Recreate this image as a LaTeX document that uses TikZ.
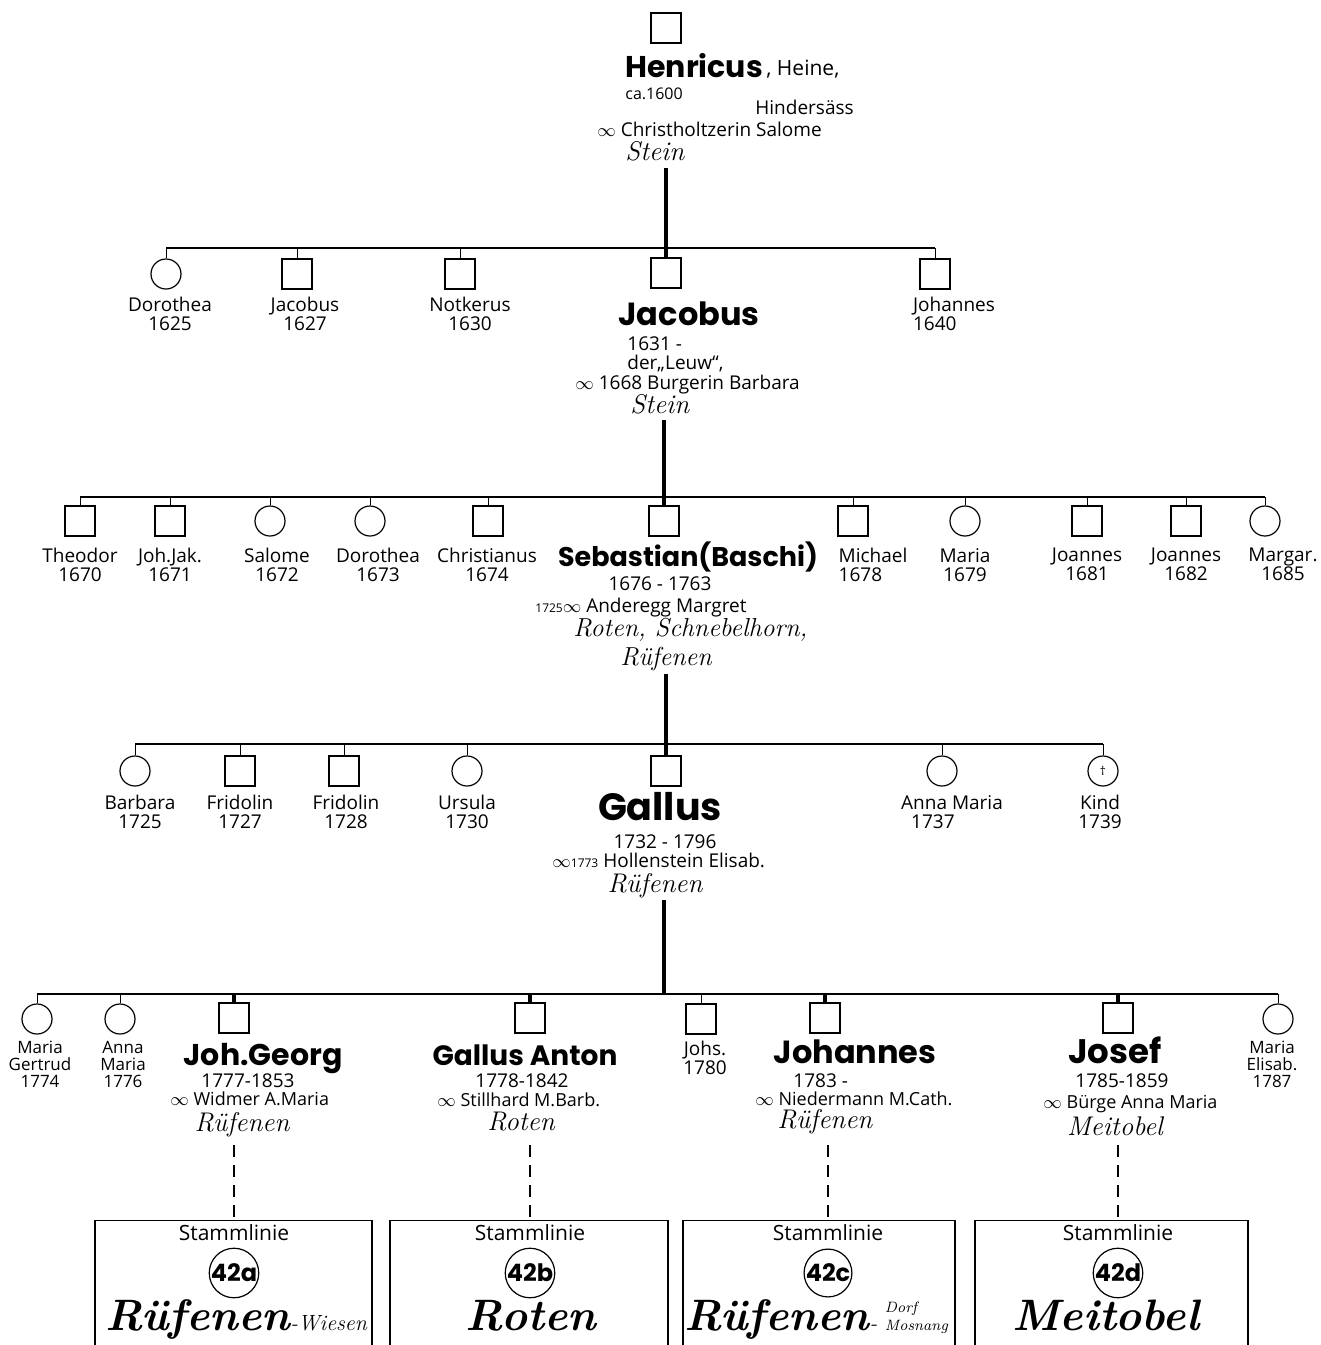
\documentclass[tikz,border=0pt]{standalone}
\usepackage{fontspec}
\newfontfamily\hand{Open Sans}
\newfontfamily\heavy{Poppins}
\usetikzlibrary{positioning}

\begin{document}
\begin{tikzpicture}[x=0.5pt, y=-0.5pt,
    man/.style={draw, line width=0.6pt, minimum size=15pt, inner sep=0pt},
    woman/.style={draw, circle, line width=0.6pt, minimum size=15pt, inner sep=0pt},
    kid/.style={font=\hand\fontsize{9.5}{9.5}\selectfont, align=center, anchor=north, inner sep=0pt},
    kidsmall/.style={font=\hand\fontsize{8.5}{8.5}\selectfont, align=center, anchor=north, inner sep=0pt},
    heir/.style={font=\heavy\bfseries\fontsize{#1}{#1}\selectfont, anchor=base, inner sep=0pt},
    heir/.default=15,
    info/.style={font=\hand\fontsize{9.5}{9.5}\selectfont, anchor=base west, inner sep=0pt},
    place/.style={font=\itshape\fontsize{13.5}{13.5}\selectfont, anchor=base west, inner sep=0pt},
    bar/.style={line width=0.6pt},
    twig/.style={line width=0.5pt},
    stem/.style={line width=2.2pt},
    lineage/.style={line width=0.6pt, dash pattern=on 6pt off 4pt},
    stammbox/.style={draw, line width=0.6pt, anchor=north, minimum height=80pt},
    badge/.style={draw, circle, line width=0.6pt, minimum size=19pt, inner sep=0pt, font=\heavy\bfseries\fontsize{12}{12}\selectfont},
    branch/.style={font=\bfseries\itshape\fontsize{22}{22}\selectfont, anchor=base, inner sep=0pt}
]
\useasboundingbox (0,0) rectangle (1321,1345);

% Henricus at top
\node[man] (henricus) at (666,28) {};
\node[heir=15, anchor=base west] (henricus-n) at (625,77) {Henricus};
\node[info, font=\hand\fontsize{10.5}{10.5}\selectfont] (henricus-a) at (766,75) {, Heine,};
\node[info, font=\hand\fontsize{8}{8}\selectfont] (henricus-b) at (625,99) {ca.1600};
\node[info] (henricus-c) at (755,114) {Hindersäss};
\node[info] (henricus-d) at (597,136) {$\infty$ Christholtzerin Salome};
\node[place] (henricus-p) at (625,160) {Stein};
\coordinate (stem0) at (666,168);

% children of Henricus
\coordinate (bar1) at (0,248);
\foreach \x/\s/\n/\lx/\al/\txt in {166/woman/a/170/center/{Dorothea\\1625},
    297/man/b/305/center/{Jacobus\\1627}, 460/man/c/470/center/{Notkerus\\1630},
    935/man/e/954/left/{Johannes\\1640}} {
    \node[\s] (r1\n) at (\x,274) {};
    \node[kid, align=\al] (r1\n-t) at (\lx,297) {\txt};
    \draw[twig] (r1\n.north) -- (r1\n.north |- bar1);
}
\node[man] (jacobus) at (666,273) {};
\draw[bar] (r1a.north |- bar1) -- (r1e.north |- bar1);
\draw[stem] (stem0) -- (jacobus.north);

\node[heir=16] (jacobus-n) at (689,325) {Jacobus};
\node[info] (jacobus-a) at (627,350) {1631 -};
\node[info] (jacobus-b) at (627,369) {der„Leuw“,};
\node[info] (jacobus-c) at (575,389) {$\infty$ 1668 Burgerin Barbara};
\node[place] (jacobus-p) at (630,413) {Stein};
\coordinate (stem1) at (664,420);

% children of Jacobus
\coordinate (bar2) at (0,497);
\foreach \x/\s/\n/\lx/\al/\txt in {80/man/a/80/center/{Theodor\\1670},
    170/man/b/170/center/{Joh.Jak.\\1671}, 270/woman/c/277/center/{Salome\\1672},
    370/woman/d/378/center/{Dorothea\\1673}, 488/man/e/487/center/{Christianus\\1674},
    853/man/g/873/left/{Michael\\1678}, 965/woman/h/965/center/{Maria\\1679},
    1087/man/i/1087/center/{Joannes\\1681}, 1186/man/j/1186/center/{Joannes\\1682},
    1265/woman/k/1283/center/{Margar.\\1685}} {
    \node[\s] (r2\n) at (\x,521) {};
    \node[kid, align=\al] (r2\n-t) at (\lx,548) {\txt};
    \draw[twig] (r2\n.north) -- (r2\n.north |- bar2);
}
\node[man] (sebastian) at (664,521) {};
\draw[bar] (r2a.north |- bar2) -- (r2k.north |- bar2);
\draw[stem] (stem1) -- (sebastian.north);

\node[heir=13.5] (sebastian-n) at (688,566) {Sebastian(Baschi)};
\node[info, anchor=base] (sebastian-a) at (660,590) {1676 - 1763};
\node[info] (sebastian-b) at (535,612) {{\fontsize{6}{6}\selectfont 1725}$\infty$ Anderegg Margret};
\node[place, font=\itshape\fontsize{13}{13}\selectfont] (sebastian-c) at (573,636) {Roten, Schnebelhorn,};
\node[place, font=\itshape\fontsize{13}{13}\selectfont] (sebastian-d) at (620,665) {Rüfenen};
\coordinate (stem2) at (666,674);

% children of Sebastian
\coordinate (bar3) at (0,744);
\foreach \x/\s/\n/\lx/\al/\txt in {135/woman/a/140/center/{Barbara\\1725},
    240/man/b/240/center/{Fridolin\\1727}, 344/man/c/346/center/{Fridolin\\1728},
    467/woman/d/467/center/{Ursula\\1730}, 942/woman/f/952/left/{Anna Maria\\\hspace{5pt}1737},
    1103/woman/g/1100/center/{Kind\\1739}} {
    \node[\s] (r3\n) at (\x,771) {};
    \node[kid, align=\al] (r3\n-t) at (\lx,795) {\txt};
    \draw[twig] (r3\n.north) -- (r3\n.north |- bar3);
}
\node[font=\hand\fontsize{6}{6}\selectfont] (r3g-d) at (r3g) {†};
\node[man] (gallus) at (666,771) {};
\draw[bar] (r3a.north |- bar3) -- (r3g.north |- bar3);
\draw[stem] (stem2) -- (gallus.north);

\node[heir=19] (gallus-n) at (660,820) {Gallus};
\node[info, anchor=base] (gallus-a) at (665,848) {1732 - 1796};
\node[info] (gallus-b) at (552,867) {$\infty${\fontsize{6}{6}\selectfont 1773} Hollenstein Elisab.};
\node[place, anchor=base] (gallus-p) at (655,892) {Rüfenen};
\coordinate (stem3) at (664,900);

% children of Gallus
\coordinate (bar4) at (0,994);
\foreach \x/\s/\n/\lx/\k/\txt in {37/woman/a/40/kidsmall/{Maria\\Gertrud\\1774},
    120/woman/b/123/kidsmall/{Anna\\Maria\\1776}, 701/man/e/705/kid/{Johs.\\1780},
    1278/woman/h/1272/kidsmall/{Maria\\Elisab.\\1787}} {
    \node[\s] (r4\n) at (\x,1019) {};
    \node[\k] (r4\n-t) at (\lx,1041) {\txt};
    \draw[twig] (r4\n.north) -- (r4\n.north |- bar4);
}
\foreach \n/\x in {jgeorg/234, ganton/530, johannes/825, josef/1118} {
    \node[man] (\n) at (\x,1018) {};
    \draw[stem] (\n.north) -- (\n.north |- bar4);
}
\draw[bar] (r4a.north |- bar4) -- (r4h.north |- bar4);
\draw[stem] (stem3) -- (stem3 |- bar4);

% the four heirs
\node[heir=15] (jgeorg-n) at (263,1065) {Joh.Georg};
\node[info, anchor=base] (jgeorg-a) at (248,1087) {1777-1853};
\node[info, font=\hand\fontsize{9}{9}\selectfont] (jgeorg-b) at (170,1105) {$\infty$ Widmer A.Maria};
\node[place, anchor=base] (jgeorg-p) at (242,1131) {Rüfenen};

\node[heir=14] (ganton-n) at (525,1065) {Gallus Anton};
\node[info, anchor=base] (ganton-a) at (522,1087) {1778-1842};
\node[info, font=\hand\fontsize{9}{9}\selectfont] (ganton-b) at (437,1106) {$\infty$ Stillhard M.Barb.};
\node[place, anchor=base] (ganton-p) at (521,1130) {Roten};

\node[heir=16] (johannes-n) at (855,1063) {Johannes};
\node[info] (johannes-a) at (793,1087) {1783 -};
\node[info, font=\hand\fontsize{9}{9}\selectfont] (johannes-b) at (755,1105) {$\infty$ Niedermann M.Cath.};
\node[place] (johannes-p) at (777,1128) {Rüfenen};

\node[heir=17] (josef-n) at (1115,1063) {Josef};
\node[info, anchor=base] (josef-a) at (1122,1087) {1785-1859};
\node[info, font=\hand\fontsize{9}{9}\selectfont] (josef-b) at (1043,1108) {$\infty$ Bürge Anna Maria};
\node[place, anchor=base] (josef-p) at (1115,1135) {Meitobel};

% Stammlinie boxes
\node[stammbox, minimum width=138.5pt] (box1) at (233.5,1220) {};
\node[stammbox, minimum width=139pt] (box2) at (529,1220) {};
\node[stammbox, minimum width=136pt] (box3) at (819,1220) {};
\node[stammbox, minimum width=136.5pt] (box4) at (1111.5,1220) {};

\foreach \n/\x/\b/\l in {jgeorg/234/1/42a, ganton/530/2/42b, johannes/828/3/42c, josef/1118/4/42d} {
    \coordinate (lin\b) at (\x,1145);
    \draw[lineage] (lin\b) -- (lin\b |- box\b.north);
    \node[kid, anchor=base, font=\hand\fontsize{10.5}{10.5}\selectfont] (title\b) at (\x,1240) {Stammlinie};
    \node[badge] (badge\b) at (\x,1273) {\l};
}

\node[branch] (branch1) at (236,1330) {Rüfenen{\mdseries\fontsize{11}{11}\selectfont-Wiesen}};
\node[branch] (branch2) at (531,1330) {Roten};
\node[branch] (branch3) at (816,1330) {Rüfenen{\mdseries\fontsize{11}{11}\selectfont- \begin{tabular}[b]{@{}l@{}}\fontsize{7.5}{7.5}\selectfont Dorf\\[-2pt]\fontsize{7.5}{7.5}\selectfont Mosnang\end{tabular}}};
\node[branch] (branch4) at (1106,1330) {Meitobel};

\end{tikzpicture}
\end{document}
